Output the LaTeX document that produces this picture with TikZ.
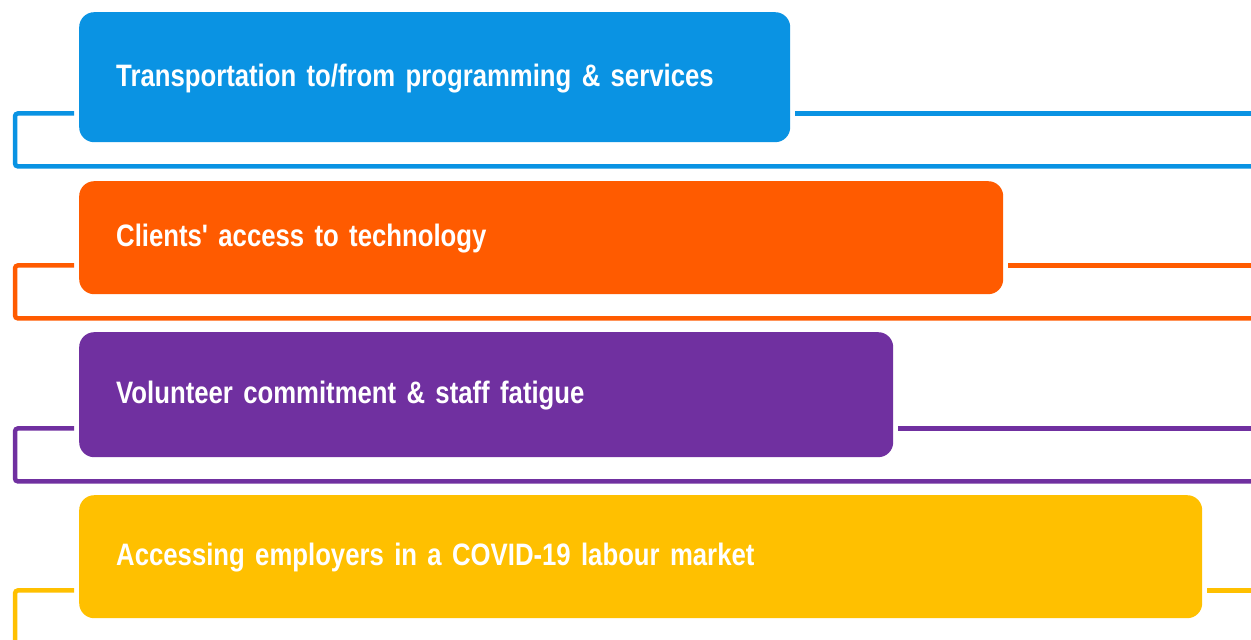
\documentclass[tikz,border=0pt]{standalone}
\usepackage{fontspec}
\setmainfont{Liberation Sans}
\newfontfamily\labelfont[FakeStretch=0.83]{Liberation Sans Bold}
\newcommand\boxlabelfont{\labelfont\fontsize{31pt}{36pt}\selectfont}
\usetikzlibrary{calc}

\definecolor{cblue}{HTML}{0A93E3}
\definecolor{corange}{HTML}{FF5B00}
\definecolor{cpurple}{HTML}{7030A0}
\definecolor{cyellow}{HTML}{FFC000}

\tikzset{
  box/.style={rectangle, rounded corners=15pt, draw=none, anchor=north west,
    inner xsep=37pt, inner ysep=0pt, align=left, text=white,
    text height=25pt, text depth=7pt, font=\boxlabelfont},
  bracket/.style={line width=4.5pt, rounded corners=3pt},
}

\begin{document}
\begin{tikzpicture}[x=1pt,y=-1pt]
\useasboundingbox (0,0) rectangle (1251,640);

% four rounded category boxes
\node[box, fill=cblue, minimum width=711pt, minimum height=130pt, text width=637pt]
  (b1) at (79,12) {Transportation to/from programming \& services};
\node[box, fill=corange, minimum width=924pt, minimum height=113pt, text width=850pt]
  (b2) at (79,181) {Clients' access to technology};
\node[box, fill=cpurple, minimum width=814pt, minimum height=125pt, text width=740pt]
  (b3) at (79,332) {Volunteer commitment \& staff fatigue};
\node[box, fill=cyellow, minimum width=1123pt, minimum height=123pt, text width=1049pt]
  (b4) at (79,495) {Accessing employers in a COVID-19 labour market};

% bracket lines wrapping each box
\foreach \b/\c in {b1/cblue, b2/corange, b3/cpurple} {
  \coordinate (\b-l) at ([shift={(-5pt,29pt)}]\b.south west);
  \coordinate (\b-r) at ([shift={(5pt,29pt)}]\b.south east);
  \coordinate (\b-d) at ([yshift=-24pt]\b.south west);
  \draw[bracket, \c] (\b-l) -| (15,0 |- \b-d) -- (1251,0 |- \b-d);
  \draw[bracket, \c] (\b-r) -- (1251,0 |- \b-r);
}
\coordinate (b4-l) at ([shift={(-5pt,28pt)}]b4.south west);
\coordinate (b4-r) at ([shift={(5pt,28pt)}]b4.south east);
\draw[bracket, cyellow] (b4-l) -| (15,640);
\draw[bracket, cyellow] (b4-r) -- (1251,0 |- b4-r);
\end{tikzpicture}
\end{document}
